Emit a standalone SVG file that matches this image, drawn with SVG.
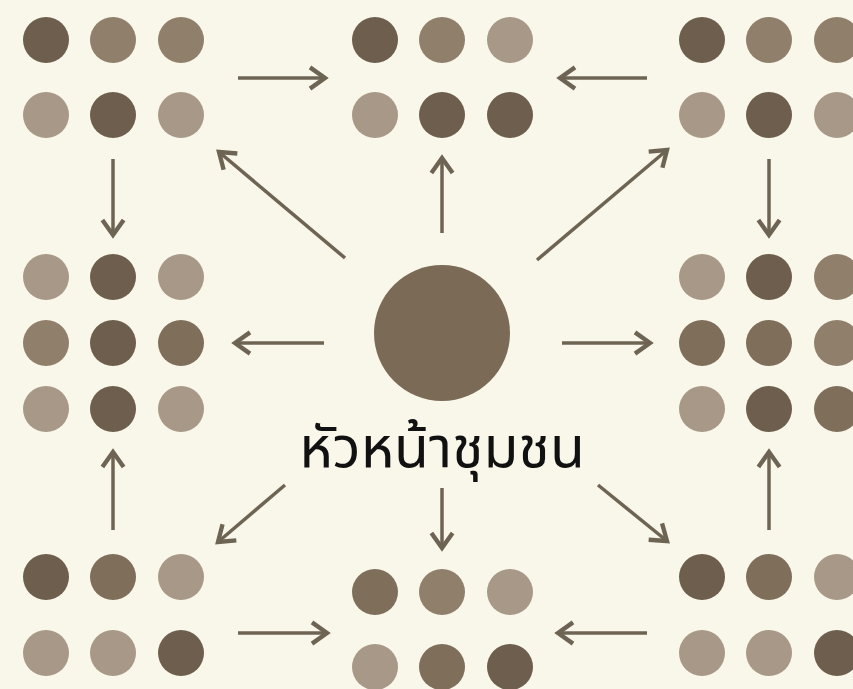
<svg xmlns="http://www.w3.org/2000/svg" width="853" height="689" viewBox="0 0 853 689">
<defs>
<style>
.bg{fill:#f9f6ea}
.D{fill:#6d5e4d}
.MD{fill:#7e6e5a}
.M{fill:#907f6b}
.L{fill:#a79887}
.ar{stroke:#6e6454;stroke-width:3.5;fill:none;marker-end:url(#ah)}
.lbl{font-family:"Noto Sans Thai","Noto Sans","DejaVu Sans",sans-serif;font-size:57px;fill:#111;text-anchor:middle}
</style>
<marker id="ah" markerUnits="userSpaceOnUse" markerWidth="30" markerHeight="30" viewBox="-16 -12 20 24" refX="0" refY="0" orient="auto">
<path d="M-12,-8.5 L0,0 L-12,8.5" fill="none" stroke="#6e6454" stroke-width="3.5" stroke-linejoin="miter"/>
</marker>
</defs>
<rect class="bg" x="0" y="0" width="853" height="689"/>

<g id="group-top-left">
<circle class="D" cx="46" cy="40" r="23"/><circle class="M" cx="113" cy="40" r="23"/><circle class="M" cx="181" cy="40" r="23"/>
<circle class="L" cx="46" cy="115" r="23"/><circle class="D" cx="113" cy="115" r="23"/><circle class="L" cx="181" cy="115" r="23"/>
</g>
<g id="group-top-middle">
<circle class="D" cx="375" cy="40" r="23"/><circle class="M" cx="442" cy="40" r="23"/><circle class="L" cx="510" cy="40" r="23"/>
<circle class="L" cx="375" cy="115" r="23"/><circle class="D" cx="442" cy="115" r="23"/><circle class="D" cx="510" cy="115" r="23"/>
</g>
<g id="group-top-right">
<circle class="D" cx="702" cy="40" r="23"/><circle class="M" cx="769" cy="40" r="23"/><circle class="M" cx="837" cy="40" r="23"/>
<circle class="L" cx="702" cy="115" r="23"/><circle class="D" cx="769" cy="115" r="23"/><circle class="L" cx="837" cy="115" r="23"/>
</g>
<g id="group-middle-left">
<circle class="L" cx="46" cy="277" r="23"/><circle class="D" cx="113" cy="277" r="23"/><circle class="L" cx="181" cy="277" r="23"/>
<circle class="M" cx="46" cy="343" r="23"/><circle class="D" cx="113" cy="343" r="23"/><circle class="MD" cx="181" cy="343" r="23"/>
<circle class="L" cx="46" cy="409" r="23"/><circle class="D" cx="113" cy="409" r="23"/><circle class="L" cx="181" cy="409" r="23"/>
</g>
<g id="group-middle-right">
<circle class="L" cx="702" cy="277" r="23"/><circle class="D" cx="769" cy="277" r="23"/><circle class="M" cx="837" cy="277" r="23"/>
<circle class="MD" cx="702" cy="343" r="23"/><circle class="MD" cx="769" cy="343" r="23"/><circle class="M" cx="837" cy="343" r="23"/>
<circle class="L" cx="702" cy="409" r="23"/><circle class="D" cx="769" cy="409" r="23"/><circle class="MD" cx="837" cy="409" r="23"/>
</g>
<g id="group-bottom-left">
<circle class="D" cx="46" cy="577" r="23"/><circle class="MD" cx="113" cy="577" r="23"/><circle class="L" cx="181" cy="577" r="23"/>
<circle class="L" cx="46" cy="653" r="23"/><circle class="L" cx="113" cy="653" r="23"/><circle class="D" cx="181" cy="653" r="23"/>
</g>
<g id="group-bottom-middle">
<circle class="MD" cx="375" cy="592" r="23"/><circle class="M" cx="442" cy="592" r="23"/><circle class="L" cx="510" cy="592" r="23"/>
<circle class="L" cx="375" cy="667" r="23"/><circle class="MD" cx="442" cy="667" r="23"/><circle class="D" cx="510" cy="667" r="23"/>
</g>
<g id="group-bottom-right">
<circle class="D" cx="702" cy="577" r="23"/><circle class="MD" cx="769" cy="577" r="23"/><circle class="L" cx="837" cy="577" r="23"/>
<circle class="L" cx="702" cy="653" r="23"/><circle class="L" cx="769" cy="653" r="23"/><circle class="D" cx="837" cy="653" r="23"/>
</g>
<g id="leader">
<circle cx="442" cy="333" r="68" fill="#7b6a55"/>
<text class="lbl" x="442" y="467">หัวหน้าชุมชน</text>
</g>

<g id="connectors">
<line class="ar" x1="238" y1="78" x2="325" y2="78"/>
<line class="ar" x1="647" y1="78" x2="560" y2="78"/>
<line class="ar" x1="113" y1="159" x2="113" y2="235"/>
<line class="ar" x1="769" y1="159" x2="769" y2="235"/>
<line class="ar" x1="345" y1="258" x2="219" y2="152"/>
<line class="ar" x1="442" y1="233" x2="442" y2="158"/>
<line class="ar" x1="537" y1="260" x2="667" y2="150"/>
<line class="ar" x1="324" y1="343" x2="235" y2="343"/>
<line class="ar" x1="562" y1="343" x2="650" y2="343"/>
<line class="ar" x1="113" y1="530" x2="113" y2="452"/>
<line class="ar" x1="769" y1="530" x2="769" y2="452"/>
<line class="ar" x1="285" y1="485" x2="218" y2="542"/>
<line class="ar" x1="442" y1="488" x2="442" y2="548"/>
<line class="ar" x1="598" y1="485" x2="667" y2="541"/>
<line class="ar" x1="238" y1="633" x2="327" y2="633"/>
<line class="ar" x1="647" y1="633" x2="558" y2="633"/>
</g>
</svg>
